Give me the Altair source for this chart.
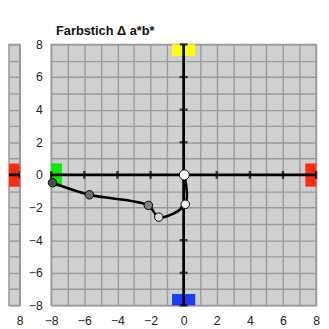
import altair as alt
import pandas as pd

# colour-cast path in the a*b* plane
a_vals = [-7.92, -5.69, -2.13, -1.50, 0.10, 0.04]
b_vals = [-0.48, -1.22, -1.87, -2.59, -1.80, 0.00]
point_fill = ["#4d4d4d", "#707070", "#828282", "#dadada", "#f2f2f2", "#ffffff"]
point_size = [75, 75, 75, 75, 75, 105]

# colour patches at the axis ends
patch_names = ["gruen", "rot", "gelb", "blau"]
patch_a1 = [-8.0, 7.35, -0.7, -0.7]
patch_a2 = [-7.35, 8.0, 0.7, 0.7]
patch_b1 = [-0.72, -0.72, 7.3, -8.0]
patch_b2 = [0.7, 0.7, 8.0, -7.3]
patch_color = ["#00ee00", "#ff2a10", "#ffff00", "#1a3cff"]

# axes
tick_vals = [-8, -6, -4, -2, 0, 2, 4, 6, 8]
grid_vals = [-8, -7, -6, -5, -4, -3, -2, -1, 0, 1, 2, 3, 4, 5, 6, 7, 8]
zero_a1 = [-8, 0]
zero_a2 = [8, 0]
zero_b1 = [0, -8]
zero_b2 = [0, 8]

FONT = "Liberation Sans"

pts = pd.DataFrame({"a": a_vals, "b": b_vals, "fill": point_fill,
                    "size": point_size, "i": list(range(len(a_vals)))})
patches = pd.DataFrame({"name": patch_names, "a": patch_a1, "a2": patch_a2,
                        "b": patch_b1, "b2": patch_b2, "col": patch_color})
zeros = pd.DataFrame({"a": zero_a1, "a2": zero_a2, "b": zero_b1, "b2": zero_b2})
ticks_h = pd.DataFrame({"a": tick_vals, "b": [0] * len(tick_vals)})
ticks_v = pd.DataFrame({"a": [0] * len(tick_vals), "b": tick_vals})

label_expr = "datum.value % 2 == 0 ? datum.label : ''"


def X(field="a", domain=(-8, 8), values=grid_vals):
    return alt.X(f"{field}:Q",
                 scale=alt.Scale(domain=list(domain), nice=False, zero=False),
                 axis=alt.Axis(values=values, labelExpr=label_expr, grid=True,
                               ticks=False, domain=False, labelPadding=9,
                               format=".0f", title=None, labelFlush=False))


def Y(field="b", labels=True):
    return alt.Y(f"{field}:Q",
                 scale=alt.Scale(domain=[-8, 8], nice=False),
                 axis=alt.Axis(values=grid_vals, labelExpr=label_expr, grid=True,
                               ticks=False, domain=False, labelPadding=9,
                               format=".0f", labels=labels, title=None,
                               labelFlush=False))


# ---- main panel ----
rects = alt.Chart(patches).mark_rect().encode(
    x=X(), x2="a2", y=Y(), y2="b2", color=alt.Color("col:N", scale=None))
zero_lines = alt.Chart(zeros).mark_rule(color="black", strokeWidth=2.8).encode(
    x=X(), x2="a2", y=Y(), y2="b2")
tk_h = alt.Chart(ticks_h).mark_tick(orient="vertical", size=8, thickness=2.4,
                                    color="black").encode(x=X(), y=Y())
tk_v = alt.Chart(ticks_v).mark_tick(orient="horizontal", size=8, thickness=2.4,
                                    color="black").encode(x=X(), y=Y())
line = alt.Chart(pts).mark_line(color="black", strokeWidth=2.6,
                                interpolate="catmull-rom").encode(
    x=X(), y=Y(), order="i:Q")
dots = alt.Chart(pts).mark_point(filled=True, shape="circle", stroke="black",
                                 strokeWidth=1, opacity=1).encode(
    x=X(), y=Y(),
    fill=alt.Fill("fill:N", scale=None),
    size=alt.Size("size:Q", scale=None))

main = alt.layer(rects, zero_lines, tk_h, tk_v, line, dots).properties(
    width=270, height=266,
    title=alt.TitleParams("Farbstich \u0394 a*b*", anchor="start", frame="group",
                          font=FONT, fontSize=13, fontWeight="bold",
                          color="#111", offset=1, dx=5))

# ---- fragment of the neighbouring panel ----
LD = (7.348, 8)
l_rect = alt.Chart(patches[patches.name == "rot"]).mark_rect(clip=True).encode(
    x=X(domain=LD, values=[8]), x2="a2", y=Y(labels=False), y2="b2",
    color=alt.Color("col:N", scale=None))
l_zero = alt.Chart(zeros.iloc[[0]]).mark_rule(color="black", strokeWidth=2.8,
                                              clip=True).encode(
    x=X(domain=LD, values=[8]), x2="a2", y=Y(labels=False), y2="b2")
l_tick = alt.Chart(ticks_h[ticks_h.a == 8]).mark_tick(
    orient="vertical", size=8, thickness=2.4, color="black", clip=True).encode(
    x=X(domain=LD, values=[8]), y=Y(labels=False))
left = alt.layer(l_rect, l_zero, l_tick).properties(width=11, height=266)

chart = alt.hconcat(left, main, spacing=32, bounds="flush").properties(
    padding={"left": 0, "top": 13, "right": 0, "bottom": 0},
    background="white"
).configure_view(
    fill="#d0d0d0", stroke="#999999", strokeWidth=1.5
).configure_axis(
    gridColor="#9a9a9a", gridWidth=1.4, gridOpacity=1,
    labelFont=FONT, labelFontSize=12.5, labelColor="#222222"
)

chart.save("out.html", embed_options={"renderer": "svg", "actions": False})
